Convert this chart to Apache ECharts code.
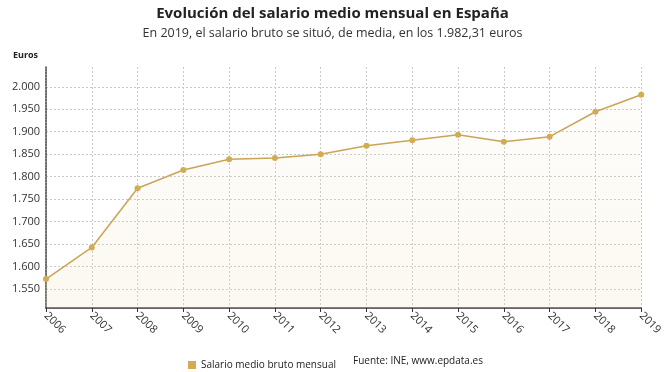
<!DOCTYPE html>
<html><head><meta charset="utf-8">
<script src="https://cdn.jsdelivr.net/npm/echarts@6/dist/echarts.min.js"></script>
<style>html,body{margin:0;padding:0;background:#fff}#c{width:665px;height:372px}</style>
</head><body><div id="c"></div>
<script>
const years = ['2006','2007','2008','2009','2010','2011','2012','2013','2014','2015','2016','2017','2018','2019'];
const salario = [1572.4,1642.6,1774.3,1815.0,1838.7,1841.6,1849.8,1869.0,1881.0,1893.4,1877.8,1889.0,1944.5,1982.31];
const yTicks = [1550,1600,1650,1700,1750,1800,1850,1900,1950,2000];
const seriesName = 'Salario medio bruto mensual';
const titleText = 'Evolución del salario medio mensual en España';
const subtitleText = 'En 2019, el salario bruto se situó, de media, en los 1.982,31 euros';
const sourceText = 'Fuente: INE, www.epdata.es';
const unitText = 'Euros';

const fmt = v => { const s = String(Math.round(v)); return s.length > 3 ? s.slice(0, s.length-3) + '.' + s.slice(-3) : s; };
const font = "'Open Sans', sans-serif";
const chart = echarts.init(document.getElementById('c'), null, {renderer:'canvas'});
chart.setOption({
  animation:false,
  textStyle:{fontFamily:font},
  title:[
    {text:titleText, left:'center', top:1, textStyle:{fontSize:15, fontWeight:'bold', color:'#222', fontFamily:font}},
    {text:subtitleText, left:'center', top:22, textStyle:{fontSize:12.5, fontWeight:'normal', color:'#333', fontFamily:font}},
    {text:unitText, left:8, top:46, textStyle:{fontSize:9, fontWeight:'bold', color:'#222', fontFamily:font}}
  ],
  legend:{left:183, top:355, itemWidth:8, itemHeight:8, icon:'rect', data:[seriesName], textStyle:{fontSize:10, color:'#222', fontFamily:font}, itemGap:5},
  graphic:[{type:'text', left:353, top:356, style:{text:sourceText, fontSize:10, fill:'#222', fontFamily:font}}],
  grid:{left:46, right:22, top:67, bottom:64},
  xAxis:{type:'category', data:years, boundaryGap:false,
    axisLine:{lineStyle:{color:'#333', width:1.5}},
    axisTick:{show:true, length:4, lineStyle:{color:'#333'}},
    axisLabel:{rotate:-45, fontSize:11, color:'#333', margin:6, fontFamily:font},
    splitLine:{show:true, lineStyle:{color:'#c8c8c8', type:[2,2]}}
  },
  yAxis:{type:'value', min:1508, max:2044,
    axisLine:{show:true, lineStyle:{color:'#444', width:1.5, type:[2,1]}},
    axisTick:{show:false, customValues:yTicks},
    axisLabel:{customValues:yTicks, formatter:fmt, fontSize:11, color:'#333', margin:6, fontFamily:font},
    splitLine:{show:true, lineStyle:{color:'#c8c8c8', type:[2,2]}}
  },
  series:[{name:seriesName, type:'line', data:salario, color:'#d4ab55',
    symbol:'circle', symbolSize:6, itemStyle:{color:'#d4ab55'},
    lineStyle:{color:'#c9a457', width:1.5},
    areaStyle:{color:new echarts.graphic.LinearGradient(0,0,0,1,[{offset:0,color:'rgba(240,225,190,0.1)'},{offset:1,color:'rgba(240,225,190,0.3)'}])}
  }]
});
</script></body></html>
